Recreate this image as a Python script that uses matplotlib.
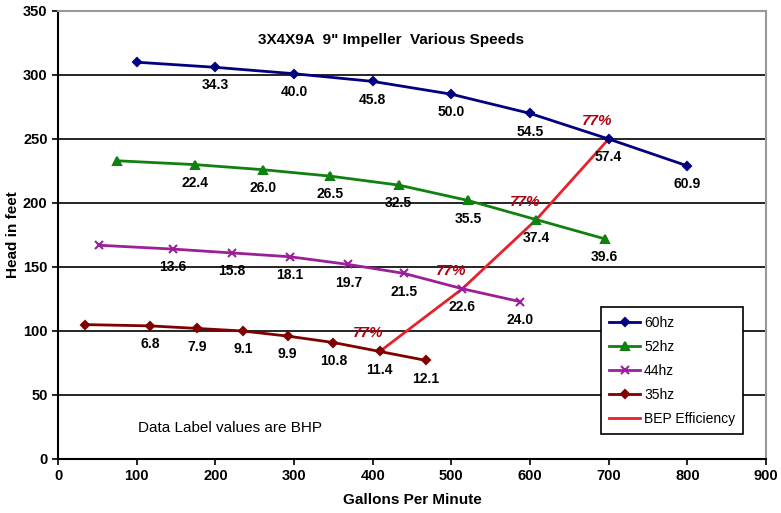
import matplotlib

matplotlib.use("Agg")
import matplotlib.pyplot as plt

plt.rcParams["font.family"] = ["Liberation Sans", "DejaVu Sans"]

# pump curves (gpm, head ft, BHP label)
gpm_60 = [100, 200, 300, 400, 500, 600, 700, 800]
head_60 = [310, 306, 301, 295, 285, 270, 250, 229]
bhp_60 = ["", "34.3", "40.0", "45.8", "50.0", "54.5", "57.4", "60.9"]

gpm_52 = [75, 174, 261, 346, 433, 521, 608, 695]
head_52 = [233, 230, 226, 221, 214, 202, 187, 172]
bhp_52 = ["", "22.4", "26.0", "26.5", "32.5", "35.5", "37.4", "39.6"]

gpm_44 = [52, 146, 221, 295, 369, 440, 514, 587]
head_44 = [167, 164, 161, 158, 152, 145, 133, 123]
bhp_44 = ["", "13.6", "15.8", "18.1", "19.7", "21.5", "22.6", "24.0"]

gpm_35 = [34, 117, 177, 235, 292, 350, 409, 468]
head_35 = [105, 104, 102, 100, 96, 91, 84, 77]
bhp_35 = ["", "6.8", "7.9", "9.1", "9.9", "10.8", "11.4", "12.1"]

bep_gpm = [409, 514, 608, 700]
bep_head = [84, 133, 187, 250]
bep_label = "77%"

series = [
    ("60hz", gpm_60, head_60, bhp_60, "#000080", "D", 4),
    ("52hz", gpm_52, head_52, bhp_52, "#108010", "^", 5.5),
    ("44hz", gpm_44, head_44, bhp_44, "#9a209a", "x", 5.5),
    ("35hz", gpm_35, head_35, bhp_35, "#800000", "D", 4),
]

fig = plt.figure(figsize=(7.81, 5.13), dpi=100)
ax = fig.add_axes([58 / 781, 54 / 513, 708 / 781, 448 / 513])

for y in range(50, 351, 50):
    ax.axhline(y, color="black", lw=1.2, zorder=1)

for name, xs, ys, labels, color, marker, ms in series:
    ax.plot(xs, ys, color=color, lw=2, marker=marker, ms=ms, mew=1.5, label=name, zorder=3)
    for x, y, lab in zip(xs, ys, labels):
        if lab:
            ax.annotate(lab, (x, y), xytext=(0, -8), textcoords="offset points",
                        ha="center", va="top", fontsize=10, fontweight="bold", zorder=4)

ax.plot(bep_gpm, bep_head, color="#e8202a", lw=2, label="BEP Efficiency", zorder=2)
for x, y in zip(bep_gpm, bep_head):
    ax.annotate(bep_label, (x, y), xytext=(-8, 8), textcoords="offset points",
                ha="center", va="bottom", fontsize=11, fontweight="bold",
                fontstyle="italic", color="#b00010", zorder=4)

ax.set_xlim(0, 900)
ax.set_ylim(0, 350)
ax.set_xticks(range(0, 901, 100))
ax.set_yticks(range(0, 351, 50))
ax.tick_params(labelsize=10.5, width=1.2, length=4)
for lab in ax.get_xticklabels() + ax.get_yticklabels():
    lab.set_fontweight("bold")

for side in ("left", "bottom"):
    ax.spines[side].set_color("black")
    ax.spines[side].set_linewidth(1.5)
for side in ("top", "right"):
    ax.spines[side].set_color("#999999")
    ax.spines[side].set_linewidth(1.5)

ax.set_xlabel("Gallons Per Minute", fontsize=11, fontweight="bold", labelpad=7)
ax.set_ylabel("Head in feet", fontsize=11, fontweight="bold", labelpad=2)

ax.text(0.47, 0.935, '3X4X9A  9" Impeller  Various Speeds', transform=ax.transAxes,
        ha="center", va="center", fontsize=11, fontweight="bold")
ax.text(0.243, 0.07, "Data Label values are BHP", transform=ax.transAxes,
        ha="center", va="center", fontsize=11)

leg = ax.legend(loc="lower right", bbox_to_anchor=(0.978, 0.04), fontsize=10,
                frameon=True, fancybox=False, edgecolor="black", framealpha=1,
                handlelength=2.2, handletextpad=0.3, labelspacing=0.72, borderpad=0.6)
leg.get_frame().set_linewidth(1.2)

fig.savefig("out.png", dpi=100)
